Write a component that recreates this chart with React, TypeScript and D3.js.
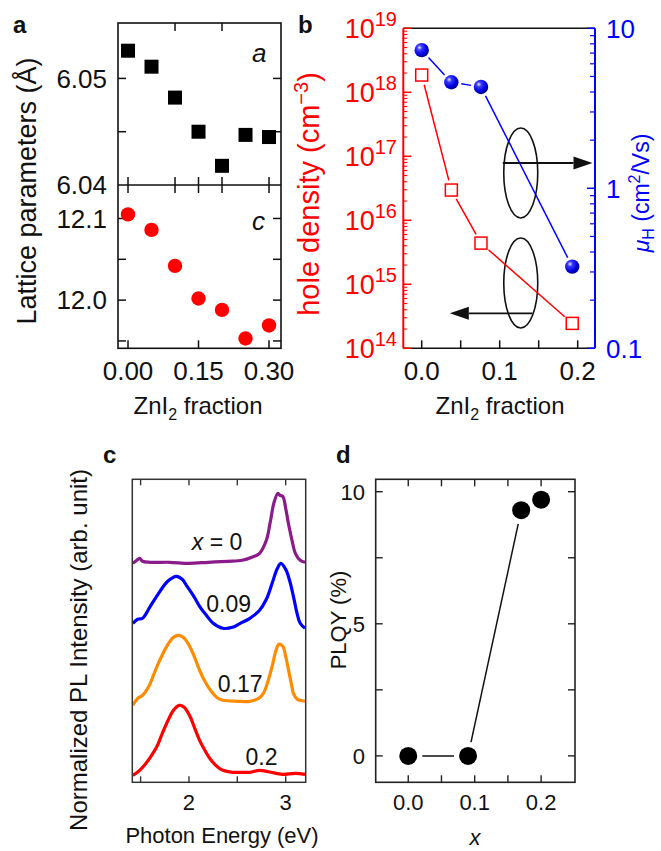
import React from 'react';
import * as d3 from 'd3';

const FONT = "'Liberation Sans', Arial, Helvetica, sans-serif";

// ---- panel a: lattice parameters vs ZnI2 fraction
const fracA = [0, 0.05, 0.1, 0.15, 0.2, 0.25, 0.3];
const latticeA = [6.0526, 6.0511, 6.0482, 6.045, 6.0418, 6.0447, 6.0445];
const latticeC = [12.105, 12.086, 12.042, 12.002, 11.988, 11.953, 11.969];

// ---- panel b: hole density / mobility
const fracB = [0, 0.038, 0.076, 0.193];
const holeDensity = [1.86e18, 2.97e16, 4.4e15, 2.45e14];
const mobility = [7.3, 4.6, 4.3, 0.324];
const holeTicks = [14, 15, 16, 17, 18, 19];
const muTicks = [0.1, 1, 10];
// ovals + arrows (x in fraction, y in log10 hole density)
const ovalX = [0.127, 0.127];
const ovalLog = [16.74, 15.02];
const arrowFromX = [0.104, 0.142];
const arrowToX = [0.219, 0.036];
const arrowLog = [16.895, 14.547];

// ---- panel c: PL spectra [energy eV, stacked intensity]
const plX0: [number, number][] = [
  [1.42, 2.19], [1.46, 2.22], [1.49, 2.24], [1.52, 2.21], [1.6, 2.2], [1.8, 2.2], [2.0, 2.19],
  [2.2, 2.2], [2.4, 2.21], [2.55, 2.22], [2.65, 2.25], [2.73, 2.29], [2.8, 2.42], [2.84, 2.6],
  [2.88, 2.8], [2.92, 2.89], [2.94, 2.87], [2.97, 2.86], [3.0, 2.74], [3.03, 2.58], [3.07, 2.4],
  [3.1, 2.29], [3.15, 2.22], [3.2, 2.2],
];
const plX009: [number, number][] = [
  [1.42, 1.59], [1.47, 1.63], [1.52, 1.64], [1.6, 1.76], [1.7, 1.91], [1.78, 2.01], [1.87, 2.06],
  [1.93, 2.03], [1.98, 1.96], [2.05, 1.86], [2.11, 1.76], [2.18, 1.67], [2.25, 1.59], [2.35, 1.54],
  [2.45, 1.55], [2.53, 1.59], [2.63, 1.64], [2.73, 1.72], [2.8, 1.83], [2.86, 1.99], [2.91, 2.13],
  [2.95, 2.19], [3.0, 2.13], [3.04, 2.02], [3.08, 1.86], [3.12, 1.68], [3.15, 1.59], [3.2, 1.54],
];
const plX017: [number, number][] = [
  [1.42, 0.77], [1.47, 0.84], [1.52, 0.87], [1.58, 0.95], [1.67, 1.16], [1.77, 1.36], [1.84, 1.45],
  [1.89, 1.47], [1.94, 1.45], [1.99, 1.39], [2.05, 1.27], [2.11, 1.12], [2.17, 1.0], [2.23, 0.91],
  [2.3, 0.84], [2.35, 0.82], [2.5, 0.81], [2.63, 0.81], [2.72, 0.84], [2.77, 0.89], [2.82, 1.02],
  [2.86, 1.16], [2.9, 1.32], [2.93, 1.38], [2.97, 1.36], [3.0, 1.26], [3.03, 1.12], [3.06, 0.98],
  [3.08, 0.89], [3.12, 0.83], [3.15, 0.82], [3.2, 0.81],
];
const plX02: [number, number][] = [
  [1.42, 0.07], [1.48, 0.11], [1.53, 0.16], [1.6, 0.25], [1.67, 0.36], [1.72, 0.48], [1.77, 0.59],
  [1.84, 0.72], [1.9, 0.77], [1.95, 0.75], [2.01, 0.66], [2.06, 0.54], [2.11, 0.42], [2.17, 0.31],
  [2.23, 0.22], [2.3, 0.15], [2.35, 0.12], [2.45, 0.1], [2.53, 0.1], [2.63, 0.1], [2.73, 0.12],
  [2.8, 0.11], [2.9, 0.09], [2.97, 0.08], [3.1, 0.09], [3.2, 0.08],
];
const plCurves = [plX0, plX009, plX017, plX02];
const plColors = ['#8b1a8b', '#0000ff', '#ff8c00', '#ff0000'];
const plLabels = ['0', '0.09', '0.17', '0.2'];
const plLabelE = [2.29, 2.41, 2.53, 2.75];
const plLabelI = [2.41, 1.79, 0.99, 0.26];

// ---- panel d: PLQY
const xPLQY = [0, 0.09, 0.17, 0.2];
const plqy = [0, 0, 9.3, 9.7];

function gapSegments(pts: [number, number][], gap: number) {
  const segs: number[][] = [];
  for (let i = 0; i < pts.length - 1; i++) {
    const [x1, y1] = pts[i];
    const [x2, y2] = pts[i + 1];
    const dx = x2 - x1, dy = y2 - y1, len = Math.hypot(dx, dy);
    if (len <= 2 * gap + 2) continue;
    const ux = dx / len, uy = dy / len;
    segs.push([x1 + ux * gap, y1 + uy * gap, x2 - ux * gap, y2 - uy * gap]);
  }
  return segs;
}

const PanelA = () => {
  const x = d3.scaleLinear([-0.0213, 0.3255], [118, 281]);
  const yT = d3.scaleLinear([6.04, 6.0552], [185, 23]);
  const yB = d3.scaleLinear([11.941, 12.141], [348.3, 185]);
  const L = 118, R = 281, T = 23, B = 348.3, M = 185, tk = 8;
  return (
    <g fontFamily={FONT}>
      <rect x={L} y={T} width={R - L} height={B - T} fill="none" stroke="#111" strokeWidth={1.6} />
      <line x1={L} x2={R} y1={M} y2={M} stroke="#111" strokeWidth={1.6} />
      {[6.045, 6.05].map(v => (
        <g key={v} stroke="#111" strokeWidth={1.5}>
          <line x1={L} x2={L + tk} y1={yT(v)} y2={yT(v)} />
          <line x1={R} x2={R - tk} y1={yT(v)} y2={yT(v)} />
        </g>
      ))}
      {[11.95, 12.0, 12.05, 12.1].map(v => (
        <g key={v} stroke="#111" strokeWidth={1.5}>
          <line x1={L} x2={L + tk} y1={yB(v)} y2={yB(v)} />
          <line x1={R} x2={R - tk} y1={yB(v)} y2={yB(v)} />
        </g>
      ))}
      {[0.1, 0.2].map(v => (
        <line key={'t' + v} x1={x(v)} x2={x(v)} y1={T} y2={T + tk} stroke="#111" strokeWidth={1.5} />
      ))}
      {[0, 0.1, 0.15, 0.2, 0.3].map(v => (
        <line key={'m' + v} x1={x(v)} x2={x(v)} y1={M - tk} y2={M + tk} stroke="#111" strokeWidth={1.5} />
      ))}
      {[0, 0.15, 0.3].map(v => (
        <line key={'b' + v} x1={x(v)} x2={x(v)} y1={B} y2={B - tk} stroke="#111" strokeWidth={1.5} />
      ))}
      {[
        { t: '6.05', y: yT(6.05) },
        { t: '6.04', y: yT(6.04) },
        { t: '12.1', y: yB(12.1) },
        { t: '12.0', y: yB(12.0) },
      ].map(d => (
        <text key={d.t} x={107} y={d.y} dy="0.36em" textAnchor="end" fontSize={26} fill="#111">{d.t}</text>
      ))}
      {[0, 0.15, 0.3].map(v => (
        <text key={v} x={x(v)} y={380} textAnchor="middle" fontSize={26} fill="#111">{v.toFixed(2)}</text>
      ))}
      <text x={198} y={414} textAnchor="middle" fontSize={24} fill="#111">
        ZnI<tspan fontSize={16} dy={6}>2</tspan><tspan dy={-6}> fraction</tspan>
      </text>
      <text transform="translate(26,191) rotate(-90)" dy="0.36em" textAnchor="middle" fontSize={27} fill="#111">
        Lattice parameters (Å)
      </text>
      <text x={252} y={62} fontSize={26} fontStyle="italic" fill="#111">a</text>
      <text x={252} y={230} fontSize={26} fontStyle="italic" fill="#111">c</text>
      {fracA.map((f, i) => (
        <rect key={i} x={x(f) - 7} y={yT(latticeA[i]) - 7} width={14} height={14} fill="#000" />
      ))}
      {fracA.map((f, i) => (
        <circle key={i} cx={x(f)} cy={yB(latticeC[i])} r={7.2} fill="#ff0000" />
      ))}
      <text x={13} y={33} fontSize={24} fontWeight="bold" fill="#111">a</text>
    </g>
  );
};

const PanelB = () => {
  const L = 403.3, R = 595, T = 28.3, B = 348.3;
  const x = d3.scaleLinear([-0.0236, 0.2222], [L, R]);
  const yH = d3.scaleLog([1e14, 1e19], [B, T]);
  const yM = d3.scaleLog([0.1, 10], [B, T]);
  const red = '#ff0000', blue = '#0000ff';
  const minorH: number[] = [];
  holeTicks.slice(0, -1).forEach(e => { for (let k = 2; k <= 9; k++) minorH.push(k * Math.pow(10, e)); });
  const minorM: number[] = [];
  muTicks.slice(0, -1).forEach(m => { for (let k = 2; k <= 9; k++) minorM.push(k * m); });
  const redPts = fracB.map((f, i) => [x(f), yH(holeDensity[i])] as [number, number]);
  const bluePts = fracB.map((f, i) => [x(f), yM(mobility[i])] as [number, number]);
  return (
    <g fontFamily={FONT}>
      <defs>
        <radialGradient id="ball" cx="35%" cy="32%" r="70%">
          <stop offset="0%" stopColor="#e8e8ff" />
          <stop offset="25%" stopColor="#3a3aff" />
          <stop offset="70%" stopColor="#0000e0" />
          <stop offset="100%" stopColor="#00008a" />
        </radialGradient>
      </defs>
      <line x1={L} x2={R} y1={T} y2={T} stroke="#111" strokeWidth={1.6} />
      <line x1={L} x2={R} y1={B} y2={B} stroke="#111" strokeWidth={1.6} />
      <line x1={L} x2={L} y1={T} y2={B} stroke={red} strokeWidth={2} />
      <line x1={R} x2={R} y1={T} y2={B} stroke={blue} strokeWidth={2} />
      {holeTicks.map(e => (
        <line key={e} x1={L} x2={L + 8} y1={yH(Math.pow(10, e))} y2={yH(Math.pow(10, e))} stroke={red} strokeWidth={1.5} />
      ))}
      {minorH.map(v => (
        <line key={v} x1={L} x2={L + 4} y1={yH(v)} y2={yH(v)} stroke={red} strokeWidth={1} />
      ))}
      {muTicks.map(v => (
        <line key={v} x1={R} x2={R - 8} y1={yM(v)} y2={yM(v)} stroke={blue} strokeWidth={1.5} />
      ))}
      {minorM.map(v => (
        <line key={v} x1={R} x2={R - 5} y1={yM(v)} y2={yM(v)} stroke={blue} strokeWidth={1.2} />
      ))}
      {[0, 0.05, 0.1, 0.15, 0.2].map(v => (
        <line key={v} x1={x(v)} x2={x(v)} y1={B} y2={B - 8} stroke="#111" strokeWidth={1.5} />
      ))}
      {holeTicks.map(e => (
        <text key={e} x={397} y={yH(Math.pow(10, e))} dy={9.6} textAnchor="end" fontSize={27} fill={red}>
          10<tspan fontSize={20} dy={-12}>{e}</tspan>
        </text>
      ))}
      {muTicks.map(v => (
        <text key={v} x={606} y={yM(v)} dy={9.3} fontSize={26} fill={blue}>{String(v)}</text>
      ))}
      {[0, 0.1, 0.2].map(v => (
        <text key={v} x={x(v)} y={380} textAnchor="middle" fontSize={26} fill="#111">{v.toFixed(1)}</text>
      ))}
      <text x={500} y={414} textAnchor="middle" fontSize={24} fill="#111">
        ZnI<tspan fontSize={16} dy={6}>2</tspan><tspan dy={-6}> fraction</tspan>
      </text>
      <text transform="translate(309,194) rotate(-90)" dy="0.36em" textAnchor="middle" fontSize={29} fill={red}>
        hole density (cm<tspan fontSize={20} dy={-11}>−3</tspan><tspan dy={11}>)</tspan>
      </text>
      <text transform="translate(641,193) rotate(-90)" dy="0.36em" textAnchor="middle" fontSize={23} fill={blue}>
        <tspan fontStyle="italic">μ</tspan><tspan fontSize={16} dy={5}>H</tspan><tspan dy={-5}> (cm</tspan>
        <tspan fontSize={16} dy={-9}>2</tspan><tspan dy={9}>/Vs)</tspan>
      </text>
      {/* ovals + arrows */}
      {ovalX.map((ox, i) => (
        <ellipse key={i} cx={x(ox)} cy={yH(Math.pow(10, ovalLog[i]))} rx={17} ry={45} fill="none" stroke="#111" strokeWidth={1.6} />
      ))}
      {arrowFromX.map((fx, i) => {
        const x1 = x(fx), x2 = x(arrowToX[i]), y = yH(Math.pow(10, arrowLog[i]));
        const dir = Math.sign(x2 - x1);
        const hx = x2 - dir * 19;
        return (
          <g key={i}>
            <line x1={x1} x2={hx} y1={y} y2={y} stroke="#111" strokeWidth={1.8} />
            <polygon points={`${x2},${y} ${hx},${y - 6.5} ${hx},${y + 6.5}`} fill="#111" />
          </g>
        );
      })}
      {gapSegments(redPts, 10).map((s, i) => (
        <line key={i} x1={s[0]} y1={s[1]} x2={s[2]} y2={s[3]} stroke={red} strokeWidth={1.5} />
      ))}
      {gapSegments(bluePts, 10).map((s, i) => (
        <line key={i} x1={s[0]} y1={s[1]} x2={s[2]} y2={s[3]} stroke={blue} strokeWidth={1.5} />
      ))}
      {redPts.map((p, i) => (
        <rect key={i} x={p[0] - 6} y={p[1] - 6} width={12} height={12} fill="#fff" stroke={red} strokeWidth={1.5} />
      ))}
      {bluePts.map((p, i) => (
        <circle key={i} cx={p[0]} cy={p[1]} r={7.2} fill="url(#ball)" />
      ))}
      <text x={298} y={33} fontSize={24} fontWeight="bold" fill="#111">b</text>
    </g>
  );
};

const PanelC = () => {
  const L = 132.3, R = 305.7, T = 479.3, B = 782.3;
  const x = d3.scaleLinear([1.414, 3.207], [L, R]);
  const y = d3.scaleLinear([0, 3.03], [B, T]);
  const line = d3.line<[number, number]>().x(d => x(d[0])).y(d => y(d[1])).curve(d3.curveCatmullRom.alpha(0.5));
  return (
    <g fontFamily={FONT}>
      <defs>
        <clipPath id="clipC"><rect x={L} y={T} width={R - L} height={B - T} /></clipPath>
      </defs>
      {[1.5, 2, 2.5, 3].map(v => (
        <g key={v} stroke="#333" strokeWidth={1.4}>
          <line x1={x(v)} x2={x(v)} y1={B} y2={B - 6} />
          <line x1={x(v)} x2={x(v)} y1={T} y2={T + 6} />
        </g>
      ))}
      <g clipPath="url(#clipC)">
        {plCurves.map((c, i) => (
          <path key={i} d={line(c) || ''} fill="none" stroke={plColors[i]} strokeWidth={3.2} strokeLinejoin="round" />
        ))}
      </g>
      <rect x={L} y={T} width={R - L} height={B - T} fill="none" stroke="#333" strokeWidth={1.5} />
      {plLabels.map((t, i) => (
        <text key={i} x={x(plLabelE[i])} y={y(plLabelI[i])} dy="0.36em" textAnchor="middle" fontSize={23} fill="#111">
          {i === 0 ? <><tspan fontStyle="italic">x</tspan> = 0</> : t}
        </text>
      ))}
      {[2, 3].map(v => (
        <text key={v} x={x(v)} y={809.5} textAnchor="middle" fontSize={22} fill="#111">{v}</text>
      ))}
      <text x={222} y={843} textAnchor="middle" fontSize={22} fill="#111">Photon Energy (eV)</text>
      <text transform="translate(78,650) rotate(-90)" dy="0.36em" textAnchor="middle" fontSize={24} fill="#111">
        Normalized PL Intensity (arb. unit)
      </text>
      <text x={103} y={463} fontSize={24} fontWeight="bold" fill="#111">c</text>
    </g>
  );
};

const PanelD = () => {
  const L = 375.7, R = 575, T = 479.3, B = 782.3;
  const x = d3.scaleLinear([-0.049, 0.251], [L, R]);
  const y = d3.scaleLinear([-1.0, 10.47], [B, T]);
  const pts = xPLQY.map((v, i) => [x(v), y(plqy[i])] as [number, number]);
  return (
    <g fontFamily={FONT}>
      <rect x={L} y={T} width={R - L} height={B - T} fill="none" stroke="#222" strokeWidth={1.6} />
      {[0, 0.05, 0.1, 0.15, 0.2].map(v => (
        <g key={v} stroke="#222" strokeWidth={1.4}>
          <line x1={x(v)} x2={x(v)} y1={B} y2={B - 7} />
          <line x1={x(v)} x2={x(v)} y1={T} y2={T + 7} />
        </g>
      ))}
      {[0, 2.5, 5, 7.5, 10].map(v => (
        <g key={v} stroke="#222" strokeWidth={1.4}>
          <line x1={L} x2={L + 7} y1={y(v)} y2={y(v)} />
          <line x1={R} x2={R - 7} y1={y(v)} y2={y(v)} />
        </g>
      ))}
      {[0, 5, 10].map(v => (
        <text key={v} x={365} y={y(v)} dy="0.36em" textAnchor="end" fontSize={22} fill="#111">{v}</text>
      ))}
      {[0, 0.1, 0.2].map(v => (
        <text key={v} x={x(v)} y={809.5} textAnchor="middle" fontSize={22} fill="#111">{v.toFixed(1)}</text>
      ))}
      <text x={475} y={845} textAnchor="middle" fontSize={22} fontStyle="italic" fill="#111">x</text>
      <text transform="translate(338,620) rotate(-90)" dy="0.36em" textAnchor="middle" fontSize={22} fill="#111">
        PLQY (%)
      </text>
      {gapSegments(pts, 14).map((s, i) => (
        <line key={i} x1={s[0]} y1={s[1]} x2={s[2]} y2={s[3]} stroke="#111" strokeWidth={1.5} />
      ))}
      {pts.map((p, i) => (
        <circle key={i} cx={p[0]} cy={p[1]} r={9} fill="#000" />
      ))}
      <text x={336} y={463} fontSize={24} fontWeight="bold" fill="#111">d</text>
    </g>
  );
};

export default function App() {
  return (
    <div style={{ position: 'absolute', left: 0, top: 0 }}>
      <svg width={661} height={851} viewBox="0 0 661 851" style={{ display: 'block' }}>
        <rect width={661} height={851} fill="#fff" />
        <PanelA />
        <PanelB />
        <PanelC />
        <PanelD />
      </svg>
    </div>
  );
}
